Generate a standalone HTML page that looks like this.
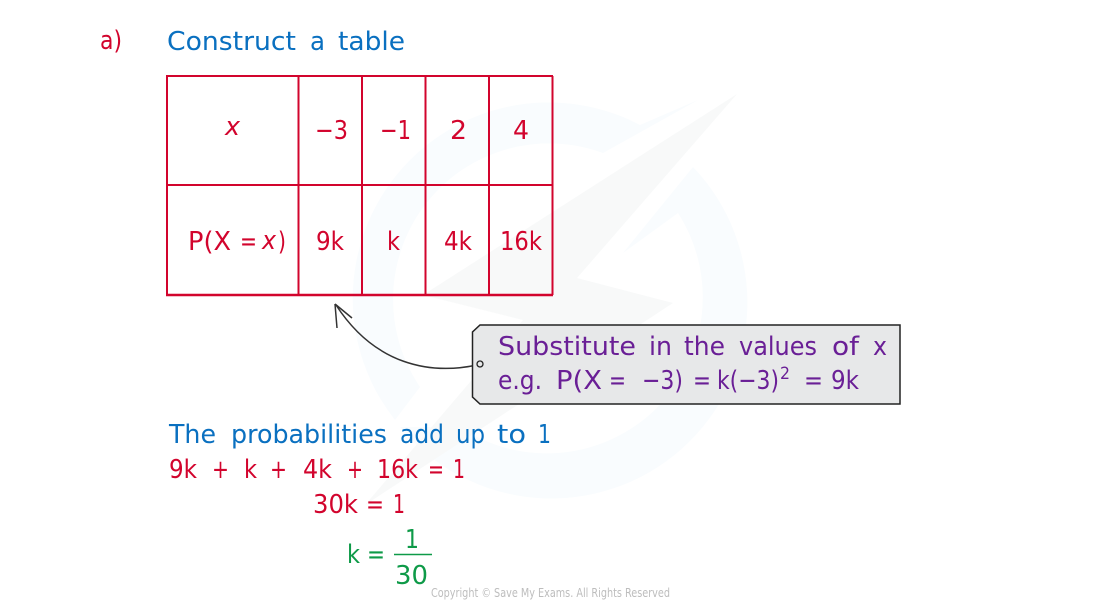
<!DOCTYPE html>
<html><head><meta charset="utf-8"><style>
html,body{margin:0;padding:0;background:#fff;width:1100px;height:600px;overflow:hidden}
svg{display:block}
text{font-family:"DejaVu Sans","Liberation Sans",sans-serif;font-weight:400;font-size:26px}
.r{fill:#d2042d}
.b{fill:#0a70c0}
.p{fill:#6a1f96}
.g{fill:#0e9a48}
.i{font-style:italic}
</style></head><body>
<svg width="1100" height="600" viewBox="0 0 1100 600" xmlns="http://www.w3.org/2000/svg">
<!-- watermark -->
<g fill="#f9fcfe">
<path d="M698 100 L640 125 A196 196 0 0 0 395 420 L420 387 A156 156 0 0 1 603 153 Z"/>
<path d="M693 167 A196 196 0 1 1 400 427 L460 427 A156 156 0 0 0 678 213 L623 253 Z"/>
</g>
<path d="M737 94 L577 278 L673 303 L365 505 L523 320 L423 295 Z" fill="#f8f9f9"/>

<!-- heading -->
<text class="r" x="100" y="49" textLength="22" lengthAdjust="spacingAndGlyphs">a)</text>
<text class="b" x="167" y="50" textLength="129" lengthAdjust="spacingAndGlyphs">Construct</text>
<text class="b" x="310" y="50" textLength="15" lengthAdjust="spacingAndGlyphs">a</text>
<text class="b" x="338" y="50" textLength="67" lengthAdjust="spacingAndGlyphs">table</text>

<!-- table -->
<g stroke="#d2042d" fill="none">
<path d="M166 76H553M166 185H553" stroke-width="2"/>
<path d="M166 295H553" stroke-width="2.600"/>
<path d="M167 76V295M298.500 76V295M362 76V295M425.500 76V295M489 76V295M552.500 76V295" stroke-width="2"/>
</g>
<text class="r i" x="225" y="135" textLength="15" lengthAdjust="spacingAndGlyphs">x</text>
<text class="r" x="315" y="139" textLength="33" lengthAdjust="spacingAndGlyphs">−3</text>
<text class="r" x="380" y="139" textLength="31" lengthAdjust="spacingAndGlyphs">−1</text>
<text class="r" x="450" y="139" textLength="17" lengthAdjust="spacingAndGlyphs">2</text>
<text class="r" x="513" y="139" textLength="16" lengthAdjust="spacingAndGlyphs">4</text>
<text class="r" x="188" y="250" textLength="43" lengthAdjust="spacingAndGlyphs">P(X</text>
<text class="r" x="240" y="250" textLength="17" lengthAdjust="spacingAndGlyphs">=</text>
<text class="r i" x="262" y="249" textLength="14" lengthAdjust="spacingAndGlyphs">x</text>
<text class="r" x="278" y="250" textLength="8" lengthAdjust="spacingAndGlyphs">)</text>
<text class="r" x="316" y="250" textLength="28" lengthAdjust="spacingAndGlyphs">9k</text>
<text class="r" x="387" y="250" textLength="13" lengthAdjust="spacingAndGlyphs">k</text>
<text class="r" x="444" y="250" textLength="28" lengthAdjust="spacingAndGlyphs">4k</text>
<text class="r" x="500" y="250" textLength="42" lengthAdjust="spacingAndGlyphs">16k</text>

<!-- arrow -->
<path d="M477 365 C430 375 375 365 336 305" fill="none" stroke="#333" stroke-width="1.500"/>
<path d="M335 304 L337 328 M335 304 L352 318" fill="none" stroke="#333" stroke-width="1.500"/>

<!-- callout -->
<path d="M480 325H900V404H480L472.500 397V332Z" fill="#e7e8e9" stroke="#222" stroke-width="1.500"/>
<circle cx="480" cy="364" r="3" fill="none" stroke="#222" stroke-width="1.300"/>
<text class="p" x="498" y="355" textLength="138" lengthAdjust="spacingAndGlyphs">Substitute</text>
<text class="p" x="649" y="355" textLength="23" lengthAdjust="spacingAndGlyphs">in</text>
<text class="p" x="684" y="355" textLength="41" lengthAdjust="spacingAndGlyphs">the</text>
<text class="p" x="739" y="355" textLength="78" lengthAdjust="spacingAndGlyphs">values</text>
<text class="p" x="832" y="355" textLength="27" lengthAdjust="spacingAndGlyphs">of</text>
<text class="p" x="873" y="355" textLength="14" lengthAdjust="spacingAndGlyphs">x</text>
<text class="p" x="498" y="389" textLength="44" lengthAdjust="spacingAndGlyphs">e.g.</text>
<text class="p" x="556" y="389" textLength="46" lengthAdjust="spacingAndGlyphs">P(X</text>
<text class="p" x="609" y="389" textLength="17" lengthAdjust="spacingAndGlyphs">=</text>
<text class="p" x="642" y="389" textLength="41" lengthAdjust="spacingAndGlyphs">−3)</text>
<text class="p" x="693" y="389" textLength="18" lengthAdjust="spacingAndGlyphs">=</text>
<text class="p" x="717" y="389" textLength="62" lengthAdjust="spacingAndGlyphs">k(−3)</text>
<text class="p" x="780" y="379" textLength="10" lengthAdjust="spacingAndGlyphs" style="font-size:17px">2</text>
<text class="p" x="804" y="389" textLength="19" lengthAdjust="spacingAndGlyphs">=</text>
<text class="p" x="831" y="389" textLength="28" lengthAdjust="spacingAndGlyphs">9k</text>

<!-- working -->
<text class="b" x="169" y="443" textLength="47" lengthAdjust="spacingAndGlyphs">The</text>
<text class="b" x="231" y="443" textLength="156" lengthAdjust="spacingAndGlyphs">probabilities</text>
<text class="b" x="400" y="443" textLength="44" lengthAdjust="spacingAndGlyphs">add</text>
<text class="b" x="456" y="443" textLength="29" lengthAdjust="spacingAndGlyphs">up</text>
<text class="b" x="497" y="443" textLength="29" lengthAdjust="spacingAndGlyphs">to</text>
<text class="b" x="538" y="443" textLength="13" lengthAdjust="spacingAndGlyphs">1</text>

<text class="r" x="169" y="478" textLength="28" lengthAdjust="spacingAndGlyphs">9k</text>
<text class="r" x="212" y="478" textLength="17" lengthAdjust="spacingAndGlyphs">+</text>
<text class="r" x="244" y="478" textLength="13" lengthAdjust="spacingAndGlyphs">k</text>
<text class="r" x="270" y="478" textLength="17" lengthAdjust="spacingAndGlyphs">+</text>
<text class="r" x="303" y="478" textLength="29" lengthAdjust="spacingAndGlyphs">4k</text>
<text class="r" x="347" y="478" textLength="16" lengthAdjust="spacingAndGlyphs">+</text>
<text class="r" x="377" y="478" textLength="41" lengthAdjust="spacingAndGlyphs">16k</text>
<text class="r" x="428" y="478" textLength="16" lengthAdjust="spacingAndGlyphs">=</text>
<text class="r" x="453" y="478" textLength="12" lengthAdjust="spacingAndGlyphs">1</text>

<text class="r" x="313" y="513" textLength="45" lengthAdjust="spacingAndGlyphs">30k</text>
<text class="r" x="366" y="513" textLength="18" lengthAdjust="spacingAndGlyphs">=</text>
<text class="r" x="393" y="513" textLength="12" lengthAdjust="spacingAndGlyphs">1</text>

<text class="g" x="347" y="563" textLength="13" lengthAdjust="spacingAndGlyphs">k</text>
<text class="g" x="367" y="563" textLength="18" lengthAdjust="spacingAndGlyphs">=</text>
<text class="g" x="405" y="548" textLength="14" lengthAdjust="spacingAndGlyphs">1</text>
<path d="M394 554.500H432" stroke="#0e9a48" stroke-width="1.500"/>
<text class="g" x="395" y="584" textLength="33" lengthAdjust="spacingAndGlyphs">30</text>

<text x="431" y="597" textLength="239" lengthAdjust="spacingAndGlyphs" style="font-family:'DejaVu Sans',sans-serif;font-size:12px;fill:#bdbdbd">Copyright © Save My Exams. All Rights Reserved</text>
</svg>
</body></html>
